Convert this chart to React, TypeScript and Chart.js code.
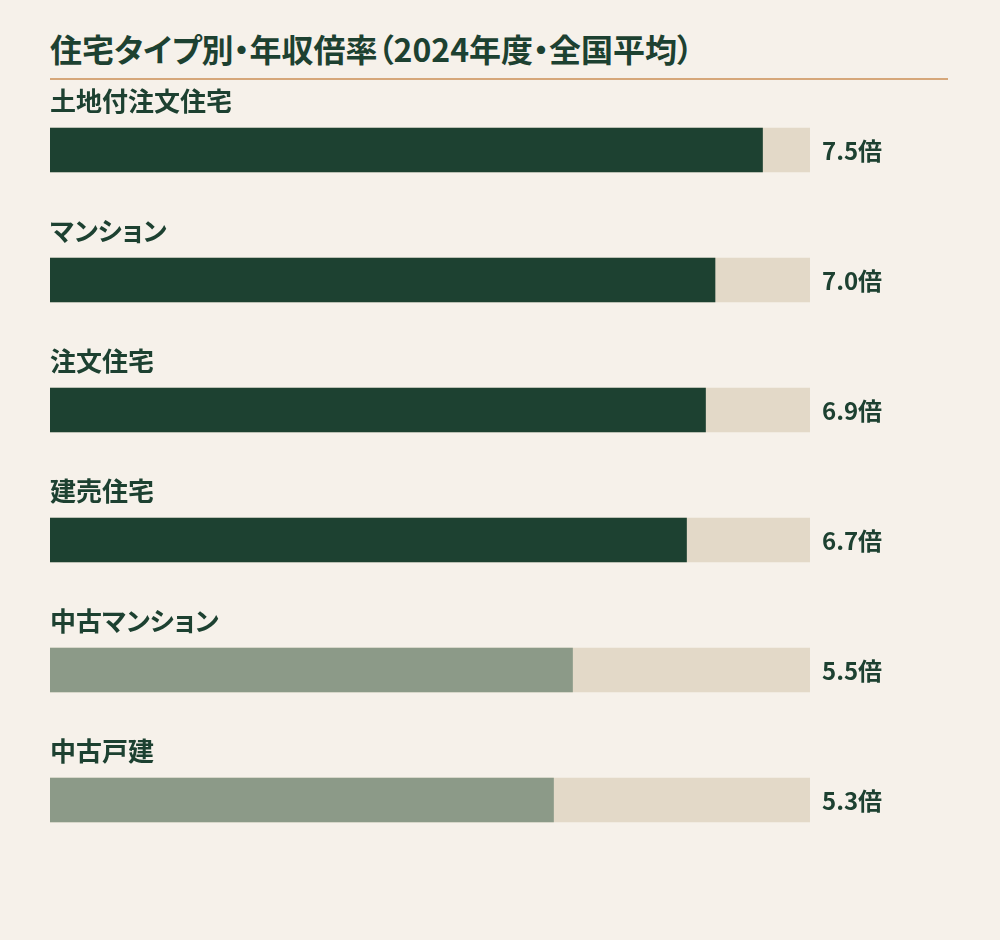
import { useEffect, useRef, useState } from "react"
import { Chart, registerables, type Plugin } from "chart.js"

Chart.register(...registerables)

const categories = ["土地付注文住宅", "マンション", "注文住宅", "建売住宅", "中古マンション", "中古戸建"]
const ratios = [7.5, 7.0, 6.9, 6.7, 5.5, 5.3]
const isNew = [true, true, true, true, false, false]
const maxRatio = 8

const FONT = '"Noto Sans CJK JP", "Noto Sans", sans-serif'
const INK = "#1d4131"
const CANVAS_TOP = 80

// value labels to the right of each track
const valuePlugin: Plugin<"bar"> = {
  id: "valueLabels",
  afterDatasetsDraw(chart) {
    const ctx = chart.ctx
    const meta = chart.getDatasetMeta(1)
    ctx.save()
    ctx.fillStyle = INK
    ctx.font = `bold 24px ${FONT}`
    ctx.textAlign = "left"
    ctx.textBaseline = "middle"
    meta.data.forEach((bar, i) => {
      ctx.fillText(ratios[i].toFixed(1) + "倍", chart.chartArea.right + 12, bar.y + 1)
    })
    ctx.restore()
  },
}

export default function App() {
  const chartRef = useRef<HTMLCanvasElement>(null)
  const chartInstance = useRef<Chart | null>(null)
  const [rowY, setRowY] = useState<number[]>([])
  const [left, setLeft] = useState(50)

  useEffect(() => {
    document.body.style.margin = "0"
    document.body.style.background = "#f6f1ea"
    if (!chartRef.current) return
    if (chartInstance.current) chartInstance.current.destroy()

    const chart = new Chart(chartRef.current, {
      type: "bar",
      data: {
        labels: categories,
        datasets: [
          {
            data: categories.map(() => maxRatio),
            backgroundColor: "#e3d9c8",
            barThickness: 44,
            grouped: false,
            order: 2,
          },
          {
            data: ratios,
            backgroundColor: isNew.map((n) => (n ? "#1d4131" : "#8c9a88")),
            barThickness: 44,
            grouped: false,
            order: 1,
          },
        ],
      },
      options: {
        indexAxis: "y",
        animation: false,
        responsive: false,
        maintainAspectRatio: false,
        layout: { padding: { left: 50, right: 190, top: 5, bottom: 75 } },
        scales: {
          x: { display: false, min: 0, max: maxRatio },
          y: { display: false },
        },
        plugins: {
          legend: { display: false },
          tooltip: { enabled: false },
        },
      },
      plugins: [valuePlugin],
    })
    chartInstance.current = chart
    setRowY(chart.getDatasetMeta(1).data.map((b) => b.y))
    setLeft(chart.chartArea.left)

    return () => {
      if (chartInstance.current) {
        chartInstance.current.destroy()
        chartInstance.current = null
      }
    }
  }, [])

  return (
    <div style={{ width: 1000, height: 940, background: "#f6f1ea", position: "relative", overflow: "hidden" }}>
      <div
        style={{
          position: "absolute",
          left: 50,
          top: 27,
          fontFamily: FONT,
          fontWeight: 700,
          fontSize: 32,
          lineHeight: "42px",
          color: INK,
          whiteSpace: "nowrap",
          fontFeatureSettings: '"palt"',
        }}
      >
        住宅タイプ別・年収倍率（2024年度・全国平均）
      </div>
      <div style={{ position: "absolute", left: 50, top: 78, width: 898, height: 2, background: "#d6a77a" }} />
      <canvas ref={chartRef} width={1000} height={860} style={{ position: "absolute", left: 0, top: CANVAS_TOP }} />
      {rowY.map((y, i) => (
        <div
          key={categories[i]}
          style={{
            position: "absolute",
            left,
            top: CANVAS_TOP + y - 50 - 16,
            height: 32,
            lineHeight: "32px",
            fontFamily: FONT,
            fontWeight: 700,
            fontSize: 26,
            color: INK,
            whiteSpace: "nowrap",
            fontFeatureSettings: '"palt"',
          }}
        >
          {categories[i]}
        </div>
      ))}
    </div>
  )
}
